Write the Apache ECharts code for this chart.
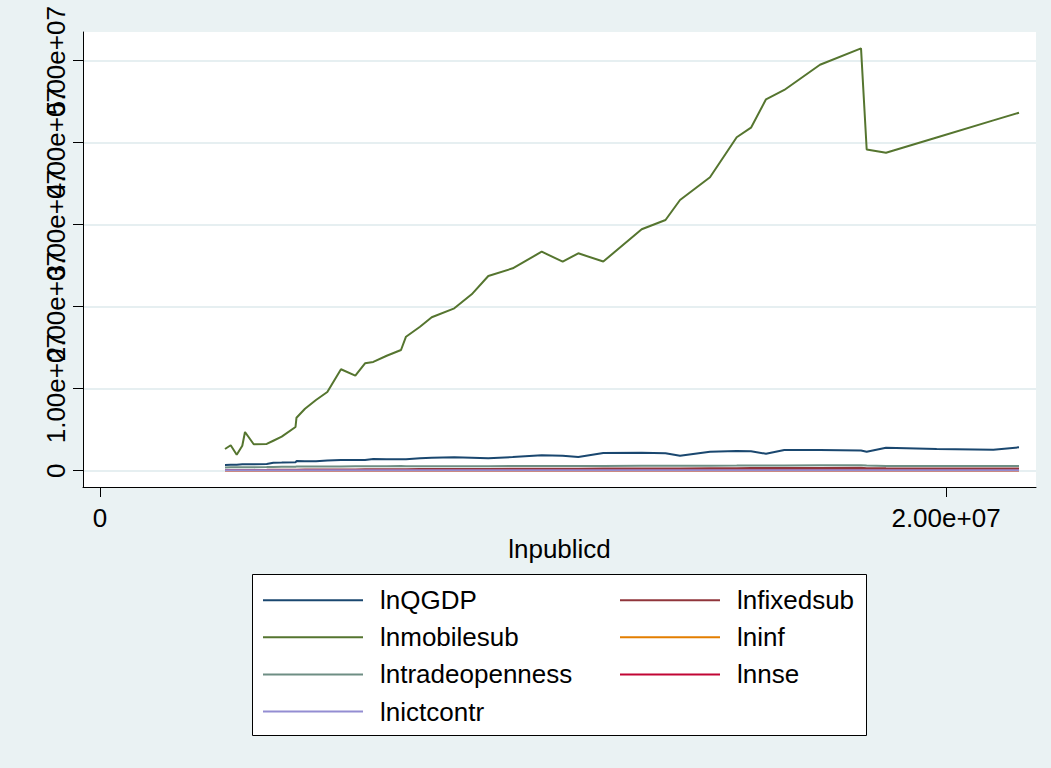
<!DOCTYPE html>
<html>
<head>
<meta charset="utf-8">
<title>lnpublicd</title>
<script src="https://cdn.jsdelivr.net/npm/echarts@6/dist/echarts.min.js"></script>
<style>
  html, body { margin: 0; padding: 0; background: #eaf2f3; }
  #chart { width: 1051px; height: 768px; }
</style>
</head>
<body>
<div id="chart"></div>
<script>
// lnpublicd (x) shared by every series
const lnpublicd = [
  2.955e6, 3.090e6, 3.232e6, 3.364e6, 3.428e6, 3.634e6, 3.941e6, 4.097e6, 4.296e6, 4.622e6,
  4.645e6, 4.846e6, 5.106e6, 5.374e6, 5.697e6, 6.036e6, 6.265e6, 6.461e6, 6.778e6, 7.116e6,
  7.234e6, 7.565e6, 7.842e6, 8.376e6, 8.787e6, 9.180e6, 9.757e6, 10.442e6, 10.938e6, 11.307e6,
  11.898e6, 12.806e6, 13.369e6, 13.712e6, 14.421e6, 15.052e6, 15.390e6, 15.745e6, 16.177e6, 17.021e6,
  17.991e6, 18.125e6, 18.582e6, 19.780e6, 21.119e6, 21.726e6
];

const lnQGDP = [
  0.70e6, 0.72e6, 0.74e6, 0.78e6, 0.78e6, 0.79e6, 0.82e6, 0.98e6, 0.99e6, 1.02e6,
  1.18e6, 1.16e6, 1.15e6, 1.24e6, 1.30e6, 1.30e6, 1.30e6, 1.43e6, 1.40e6, 1.39e6,
  1.40e6, 1.51e6, 1.59e6, 1.63e6, 1.59e6, 1.51e6, 1.67e6, 1.88e6, 1.83e6, 1.67e6,
  2.16e6, 2.20e6, 2.12e6, 1.83e6, 2.32e6, 2.40e6, 2.37e6, 2.07e6, 2.52e6, 2.52e6,
  2.46e6, 2.32e6, 2.80e6, 2.65e6, 2.56e6, 2.85e6
];

const lnfixedsub = [
  0.08e6, 0.08e6, 0.09e6, 0.09e6, 0.10e6, 0.10e6, 0.11e6, 0.12e6, 0.12e6, 0.13e6,
  0.13e6, 0.14e6, 0.14e6, 0.15e6, 0.16e6, 0.16e6, 0.17e6, 0.17e6, 0.18e6, 0.19e6,
  0.19e6, 0.20e6, 0.20e6, 0.21e6, 0.22e6, 0.22e6, 0.23e6, 0.24e6, 0.25e6, 0.25e6,
  0.26e6, 0.27e6, 0.28e6, 0.28e6, 0.30e6, 0.31e6, 0.32e6, 0.32e6, 0.33e6, 0.34e6,
  0.35e6, 0.30e6, 0.29e6, 0.28e6, 0.27e6, 0.27e6
];

const lnmobilesub = [
  2.65e6, 3.10e6, 1.95e6, 3.05e6, 4.72e6, 3.22e6, 3.26e6, 3.65e6, 4.15e6, 5.33e6,
  6.46e6, 7.56e6, 8.62e6, 9.60e6, 12.37e6, 11.59e6, 13.10e6, 13.26e6, 14.02e6, 14.72e6,
  16.34e6, 17.56e6, 18.71e6, 19.80e6, 21.51e6, 23.74e6, 24.68e6, 26.71e6, 25.49e6, 26.51e6,
  25.51e6, 29.44e6, 30.57e6, 33.01e6, 35.78e6, 40.66e6, 41.83e6, 45.29e6, 46.43e6, 49.51e6,
  51.51e6, 39.17e6, 38.78e6, 40.63e6, 42.72e6, 43.66e6
];

const lninf = [
  0.02e6, 0.02e6, 0.02e6, 0.02e6, 0.02e6, 0.02e6, 0.02e6, 0.02e6, 0.02e6, 0.02e6,
  0.02e6, 0.02e6, 0.02e6, 0.02e6, 0.02e6, 0.02e6, 0.02e6, 0.02e6, 0.02e6, 0.02e6,
  0.02e6, 0.02e6, 0.02e6, 0.02e6, 0.02e6, 0.02e6, 0.02e6, 0.02e6, 0.02e6, 0.02e6,
  0.02e6, 0.02e6, 0.02e6, 0.02e6, 0.02e6, 0.02e6, 0.02e6, 0.02e6, 0.02e6, 0.02e6,
  0.02e6, 0.02e6, 0.02e6, 0.02e6, 0.02e6, 0.02e6
];

const lntradeopenness = [
  0.40e6, 0.41e6, 0.42e6, 0.42e6, 0.43e6, 0.43e6, 0.44e6, 0.46e6, 0.47e6, 0.48e6,
  0.50e6, 0.50e6, 0.51e6, 0.52e6, 0.52e6, 0.53e6, 0.53e6, 0.54e6, 0.55e6, 0.56e6,
  0.55e6, 0.54e6, 0.53e6, 0.54e6, 0.55e6, 0.55e6, 0.56e6, 0.57e6, 0.58e6, 0.57e6,
  0.58e6, 0.59e6, 0.60e6, 0.60e6, 0.61e6, 0.62e6, 0.63e6, 0.63e6, 0.64e6, 0.65e6,
  0.66e6, 0.64e6, 0.58e6, 0.57e6, 0.58e6, 0.58e6
];

const lnnse = [
  0.05e6, 0.05e6, 0.05e6, 0.05e6, 0.05e6, 0.05e6, 0.05e6, 0.05e6, 0.05e6, 0.05e6,
  0.05e6, 0.05e6, 0.05e6, 0.05e6, 0.05e6, 0.05e6, 0.05e6, 0.05e6, 0.05e6, 0.05e6,
  0.05e6, 0.05e6, 0.05e6, 0.05e6, 0.05e6, 0.05e6, 0.05e6, 0.05e6, 0.05e6, 0.05e6,
  0.05e6, 0.05e6, 0.05e6, 0.05e6, 0.05e6, 0.05e6, 0.05e6, 0.05e6, 0.05e6, 0.05e6,
  0.05e6, 0.05e6, 0.05e6, 0.05e6, 0.05e6, 0.05e6
];

const lnictcontr = [
  0.06e6, 0.06e6, 0.06e6, 0.06e6, 0.06e6, 0.06e6, 0.06e6, 0.06e6, 0.06e6, 0.06e6,
  0.06e6, 0.06e6, 0.06e6, 0.06e6, 0.06e6, 0.06e6, 0.06e6, 0.06e6, 0.06e6, 0.06e6,
  0.06e6, 0.06e6, 0.06e6, 0.06e6, 0.06e6, 0.06e6, 0.06e6, 0.06e6, 0.06e6, 0.06e6,
  0.06e6, 0.06e6, 0.06e6, 0.06e6, 0.06e6, 0.06e6, 0.06e6, 0.06e6, 0.06e6, 0.06e6,
  0.06e6, 0.06e6, 0.06e6, 0.06e6, 0.06e6, 0.06e6
];

// tick values and their labels
const xTicks = [0, 2e7];
const xTickLabels = ['0', '2.00e+07'];
const yTicks = [0, 1e7, 2e7, 3e7, 4e7, 5e7];
const yTickLabels = ['0', '1.00e+07', '2.00e+07', '3.00e+07', '4.00e+07', '5.00e+07'];

// series in legend (row-wise) order
const seriesNames = ['lnQGDP', 'lnfixedsub', 'lnmobilesub', 'lninf', 'lntradeopenness', 'lnnse', 'lnictcontr'];
const seriesValues = [lnQGDP, lnfixedsub, lnmobilesub, lninf, lntradeopenness, lnnse, lnictcontr];
const seriesColors = ['#1a476f', '#90353b', '#55752f', '#e37e00', '#6e8e84', '#c10534', '#938dd2'];

const FONT = '"Liberation Sans", Arial, sans-serif';
const Y_MIN = -1988000;
const Y_MAX = 53500000;

const chart = echarts.init(document.getElementById('chart'), null, { renderer: 'svg' });

function labelFor(ticks, labels) {
  return function (v) {
    for (let i = 0; i < ticks.length; i++) {
      if (Math.abs(ticks[i] - v) < 1) return labels[i];
    }
    return '';
  };
}

const series = seriesNames.map((name, i) => ({
  name: name,
  type: 'line',
  symbol: 'none',
  animation: false,
  color: seriesColors[i],
  lineStyle: { color: seriesColors[i], width: 2 },
  data: lnpublicd.map((x, j) => [x, seriesValues[i][j]]),
  z: 2 + i
}));

const leftNames = ['lnQGDP', 'lnmobilesub', 'lntradeopenness', 'lnictcontr'];
const rightNames = ['lnfixedsub', 'lninf', 'lnnse'];

const legendBase = {
  orient: 'vertical',
  top: 586,
  padding: 0,
  itemWidth: 100,
  itemHeight: 14,
  itemGap: 8.6,
  icon: 'path://M0,6 L100,6 L100,8 L0,8 Z',
  textStyle: {
    fontFamily: FONT,
    fontSize: 26,
    color: '#000',
    lineHeight: 28.5,
    padding: [0, 0, 0, 12]
  },
  selectedMode: false,
  z: 10
};

// y tick labels are long and rotated, so they run into each other; they are
// split across two coincident axes (even / odd ticks) so that every one is kept
const yLabelBase = {
  interval: 0,
  formatter: labelFor(yTicks, yTickLabels),
  fontFamily: FONT,
  fontSize: 26,
  color: '#000',
  rotate: 90,
  margin: 14,
  hideOverlap: false
};

chart.setOption({
  backgroundColor: '#eaf2f3',
  animation: false,
  grid: {
    left: 83,
    top: 32,
    width: 953,
    height: 455,
    show: true,
    backgroundColor: '#ffffff',
    borderWidth: 0,
    containLabel: false
  },
  xAxis: {
    type: 'value',
    min: -401900,
    max: 22127700,
    name: 'lnpublicd',
    nameLocation: 'middle',
    nameGap: 35,
    nameTextStyle: { fontFamily: FONT, fontSize: 26, color: '#000' },
    axisLine: { show: true, onZero: false, lineStyle: { color: '#000', width: 1 } },
    axisTick: { show: true, length: 10, customValues: xTicks, lineStyle: { color: '#000', width: 1 } },
    axisLabel: {
      customValues: xTicks,
      interval: 0,
      formatter: labelFor(xTicks, xTickLabels),
      fontFamily: FONT,
      fontSize: 26,
      color: '#000',
      margin: 18,
      showMinLabel: true,
      showMaxLabel: true
    },
    splitLine: { show: false }
  },
  yAxis: [
    {
      type: 'value',
      position: 'left',
      min: Y_MIN,
      max: Y_MAX,
      axisLine: { show: true, onZero: false, lineStyle: { color: '#000', width: 1 } },
      axisTick: { show: true, length: 10, customValues: yTicks, lineStyle: { color: '#000', width: 1 } },
      axisLabel: Object.assign({}, yLabelBase, { customValues: yTicks.filter((_, i) => i % 2 === 0) }),
      splitLine: { show: true, lineStyle: { color: '#e6eff1', width: 2 } }
    },
    {
      type: 'value',
      position: 'left',
      offset: 0,
      min: Y_MIN,
      max: Y_MAX,
      axisLine: { show: false, onZero: false },
      axisTick: { show: false },
      axisLabel: Object.assign({}, yLabelBase, { customValues: yTicks.filter((_, i) => i % 2 === 1) }),
      splitLine: { show: false }
    }
  ],
  legend: [
    Object.assign({}, legendBase, { left: 263, data: leftNames }),
    Object.assign({}, legendBase, { left: 620, data: rightNames })
  ],
  graphic: [{
    type: 'rect',
    left: 252,
    top: 574,
    shape: { width: 614, height: 161 },
    style: { fill: '#ffffff', stroke: '#000', lineWidth: 1 },
    z: 0,
    silent: true
  }],
  series: series
});
</script>
</body>
</html>
